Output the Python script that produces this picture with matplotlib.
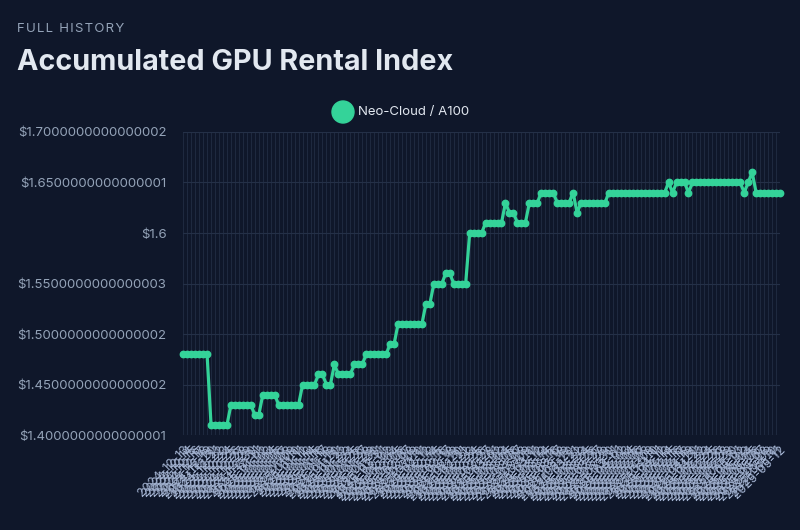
import numpy as np
import pandas as pd
import matplotlib
matplotlib.use("Agg")
import matplotlib.pyplot as plt

# daily price index (step runs of equal values)
seg_values = [1.48, 1.41, 1.43, 1.42, 1.44, 1.43, 1.45, 1.46, 1.45, 1.47,
              1.46, 1.47, 1.48, 1.49, 1.51, 1.53, 1.55, 1.56, 1.55, 1.60,
              1.61, 1.63, 1.62, 1.61, 1.63, 1.64, 1.63, 1.64, 1.62, 1.63,
              1.64, 1.65, 1.64, 1.65, 1.64, 1.65, 1.64, 1.65, 1.66, 1.64]
seg_counts = [7, 5, 6, 2, 4, 6, 4, 2, 2, 1,
              4, 3, 6, 2, 7, 2, 3, 2, 4, 4,
              5, 1, 2, 3, 3, 4, 4, 1, 1, 7,
              15, 1, 1, 3, 1, 13, 1, 1, 1, 7]
prices = [v for v, c in zip(seg_values, seg_counts) for _ in range(c)]

dates = pd.date_range("2024-12-13", periods=len(prices), freq="D").strftime("%Y-%m-%d").tolist()

y_ticks = [1.40, 1.45, 1.50, 1.55, 1.60, 1.65, 1.70]
y_tick_labels = ["$1.4000000000000001", "$1.4500000000000002", "$1.5000000000000002",
                 "$1.5500000000000003", "$1.6", "$1.6500000000000001", "$1.7000000000000002"]

series_name = "Neo-Cloud / A100"

bg = "#0f172a"
green = "#34d399"
tick_col = "#94a3b8"

plt.rcParams["font.family"] = ["Inter", "DejaVu Sans"]

fig = plt.figure(figsize=(8, 5.3), dpi=100, facecolor=bg)
ax = fig.add_axes([0.229, 0.179, 0.746, 0.572], facecolor=bg)

x = np.arange(len(prices))
ax.plot(x, prices, color=green, lw=2.3, marker="o", ms=4.6, mec=green, mfc=green,
        solid_joinstyle="round", zorder=3, clip_on=False)

ax.set_xlim(0, len(prices) - 1)
ax.set_ylim(1.40, 1.70)
ax.set_yticks(y_ticks)
ax.set_yticklabels(y_tick_labels)
ax.set_xticks(x)
ax.set_xticklabels(dates, rotation=45, ha="right", rotation_mode="anchor")

ax.tick_params(axis="y", colors=tick_col, labelsize=9.5, length=0, pad=12)
ax.tick_params(axis="x", colors=tick_col, labelsize=8.8, length=0, pad=6)
for lab in ax.get_xticklabels():
    lab.set_color("#a3b3d1")

ax.grid(True, axis="y", color="#243047", lw=0.8)
ax.grid(True, axis="x", color="#1f2a40", lw=0.7)
for s in ax.spines.values():
    s.set_visible(False)

# header texts
fig.text(0.021, 0.946, "\u200a".join("FULL HISTORY"), color=tick_col,
         fontsize=9.5, va="center", ha="left")
fig.text(0.021, 0.883, "Accumulated GPU Rental Index", color="#e2e8f0",
         fontsize=20.7, fontweight="bold", va="center", ha="left")

# legend
fig.patches.append(matplotlib.patches.Ellipse((343 / 800, 1 - 112 / 530), 22 / 800, 22 / 530,
                                              transform=fig.transFigure, color=green, figure=fig))
fig.text(358 / 800, 1 - 112 / 530, series_name, color="#e2e8f0", fontsize=9.5,
         va="center", ha="left")

fig.savefig("out.png", dpi=100, facecolor=bg)
